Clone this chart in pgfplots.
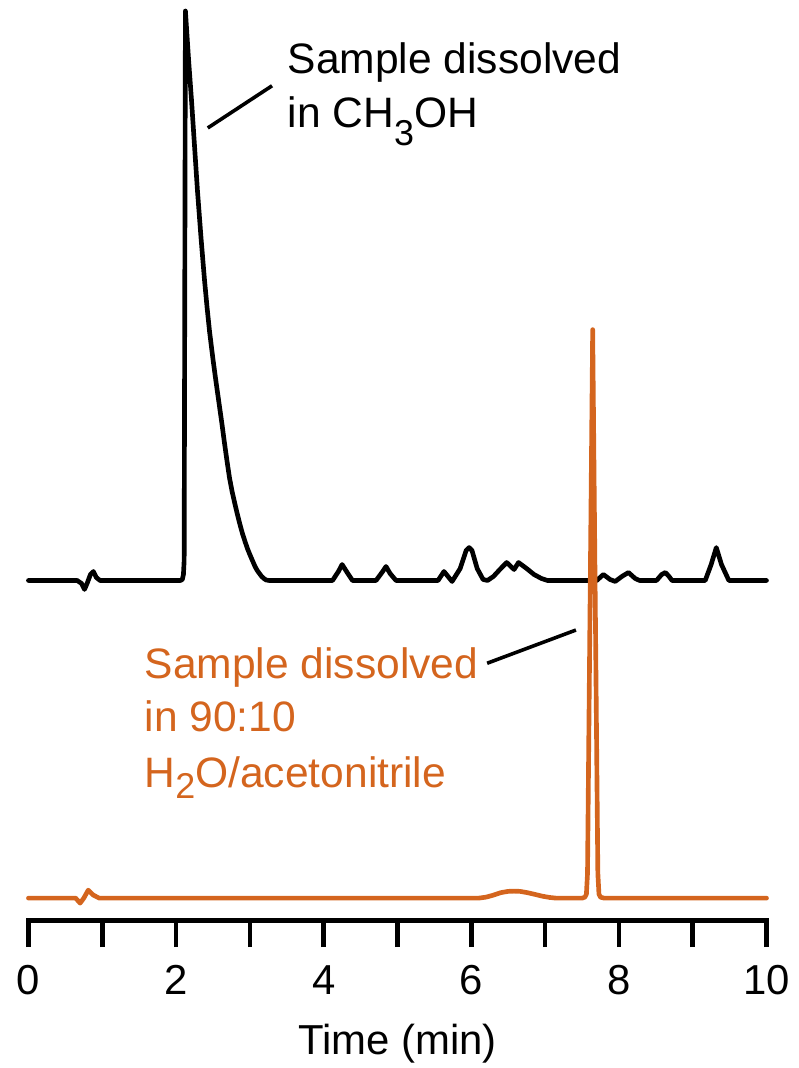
\documentclass[border=0pt]{standalone}
\usepackage{fontspec}
\setmainfont{Liberation Sans}
\usepackage{pgfplots}
\pgfplotsset{compat=1.18}
\usepackage{pgfplotstable}

\definecolor{rust}{RGB}{212,101,30}

% Detector signal relative to each trace's own baseline
\pgfplotstableread{
t h
0.00 0
0.66 0
0.72 -3
0.76 -9
0.80 -2
0.84 6
0.88 9
0.92 3
0.97 0
2.06 0
2.085 1
2.10 6
2.11 20
2.127 571
2.17 522
2.21 481
2.25 436
2.29 391
2.34 342
2.386 301
2.42 274
2.455 249
2.50 222
2.54 200
2.58 179
2.62 158
2.656 138
2.69 120
2.724 103
2.76 89
2.80 76
2.832 66
2.87 55
2.90 47
2.935 39
2.967 32
3.00 26
3.035 20
3.07 14
3.10 10
3.13 7
3.16 4
3.19 2
3.22 0.5
3.26 0
4.12 0
4.20 9
4.25 16
4.31 9
4.39 0
4.71 0
4.79 8
4.845 14
4.90 7
4.98 0
5.55 0
5.63 9
5.74 -1
5.85 12
5.93 30
5.97 33
6.01 30
6.08 12
6.16 1
6.22 0
6.30 4
6.40 12
6.48 18
6.58 11
6.64 18
6.75 12
6.85 6
6.95 2
7.03 0
7.70 0
7.79 6
7.88 1
7.95 -1
8.04 4
8.13 8
8.22 2
8.28 0
8.51 0
8.58 6
8.63 8
8.68 4
8.72 0
9.17 0
9.25 16
9.32 33
9.39 16
9.49 0
10.0 0
}\methanol

\pgfplotstableread{
t h
0.00 0
0.64 0
0.70 -5
0.75 0
0.81 8
0.88 3
0.96 0
6.10 0
6.20 1
6.30 3
6.40 5.5
6.50 6.8
6.58 7
6.66 6.8
6.76 5.5
6.86 3.8
6.96 2
7.06 0.7
7.15 0
7.50 0
7.54 1
7.56 4
7.575 25
7.645 570
7.715 25
7.73 4
7.75 1
7.80 0
10.0 0
}\aqueous

\begin{document}
\begin{tikzpicture}
\begin{axis}[
  scale only axis,
  width=555pt, height=692.25pt,
  xmin=0, xmax=10, ymin=0, ymax=923,
  clip=false,
  axis x line=bottom,
  axis y line=none,
  x axis line style={-, line width=3.5pt, line cap=rect},
  xtick={0,1,...,10},
  xticklabels={0,,2,,4,,6,,8,,10},
  tick align=outside,
  major tick length=20pt,
  every tick/.style={black, line width=3.5pt},
  xticklabel style={font=\fontsize{31.5}{36}\selectfont, anchor=base, yshift=-35.3pt},
  xlabel={Time (min)},
  xlabel style={font=\fontsize{31.5}{36}\selectfont, at={(axis description cs:0.5,0)}, anchor=base, yshift=-101pt},
  trace/.style={line width=3.5pt, line join=round, line cap=round, no markers, sharp plot},
]
% invisible frame fixing the page size
\path (axis cs:-0.3852,-145) rectangle (axis cs:10.4285,923);

\addplot[trace, black] table[x=t, y expr=\thisrow{h}+341] {\methanol};
\addplot[trace, rust] table[x=t, y expr=\thisrow{h}+22.5] {\aqueous};

% leader lines
\draw[line width=2.7pt, black] (axis cs:2.430,794.7) -- (axis cs:3.301,837);
\draw[line width=2.7pt, black] (axis cs:6.215,258) -- (axis cs:7.418,291.3);

% annotations
\begin{scope}[every node/.style={inner sep=0pt, anchor=base west, font=\fontsize{32}{38}\selectfont}]
\node at (axis cs:3.51,849.7) {Sample dissolved};
\node at (axis cs:3.51,794.7) {in CH\raisebox{-13pt}{\fontsize{27}{30}\selectfont 3}OH};
\node[text=rust] at (axis cs:1.571,243) {Sample dissolved};
\node[text=rust] at (axis cs:1.571,190) {in 90:10};
\node[text=rust] at (axis cs:1.571,133) {H\raisebox{-8pt}{\fontsize{27}{30}\selectfont 2}O/acetonitrile};
\end{scope}
\end{axis}
\end{tikzpicture}
\end{document}
